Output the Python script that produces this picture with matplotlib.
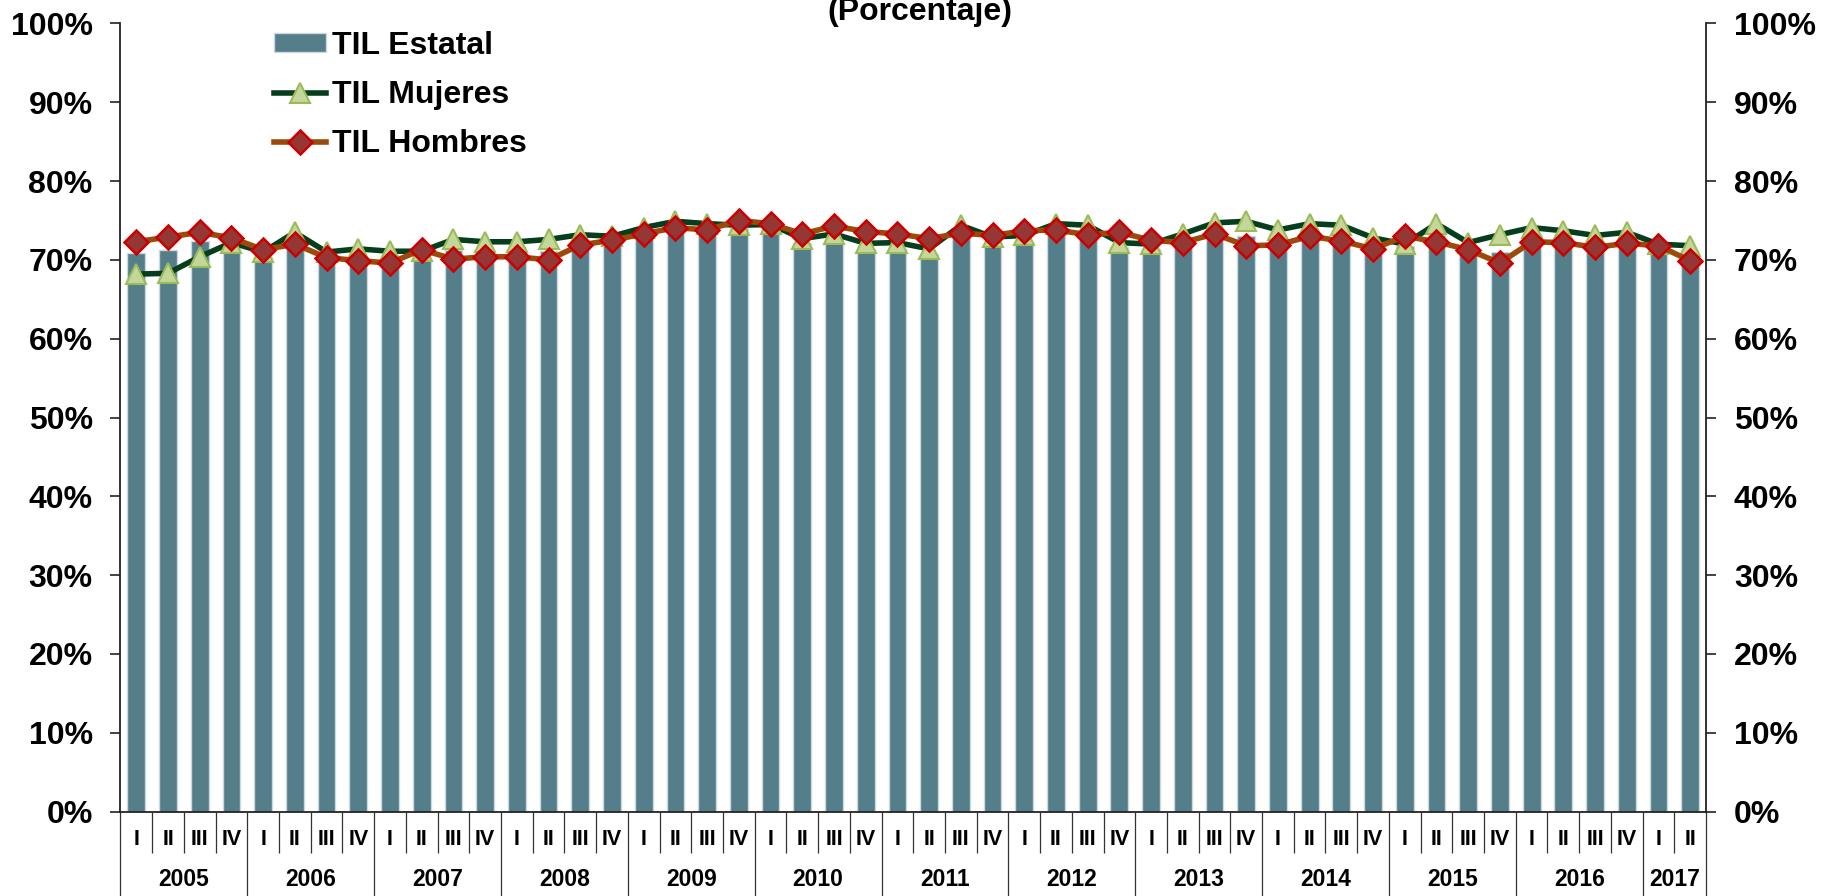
import numpy as np
import matplotlib
matplotlib.use('Agg')
import matplotlib.pyplot as plt
from matplotlib.ticker import FuncFormatter, FixedLocator

plt.rcParams['font.family'] = ['Liberation Sans', 'DejaVu Sans']
plt.rcParams['font.weight'] = 'bold'

quarters = ['I', 'II', 'III', 'IV'] * 12 + ['I', 'II']
years = ['2005', '2006', '2007', '2008', '2009', '2010', '2011',
         '2012', '2013', '2014', '2015', '2016', '2017']
quarters_per_year = [4] * 12 + [2]

til_estatal = [70.9, 71.3, 72.4, 72.2, 70.4, 72.0, 70.3, 70.2, 70.0, 70.2,
               71.2, 71.1, 71.1, 71.1, 71.9, 72.3, 73.0, 73.7, 73.7, 74.1,
               73.9, 72.2, 72.7, 71.4, 71.4, 70.8, 73.1, 72.2, 72.2, 73.3,
               72.9, 71.6, 71.4, 72.0, 72.7, 73.0, 72.8, 73.1, 72.7, 71.8,
               71.8, 73.1, 71.6, 71.0, 73.1, 72.7, 72.2, 72.4, 71.4, 70.7]
til_mujeres = [68.2, 68.3, 70.4, 72.2, 71.0, 73.5, 71.0, 71.4, 71.1, 71.1,
               72.6, 72.3, 72.3, 72.6, 73.2, 73.0, 74.1, 74.9, 74.6, 74.4,
               74.5, 72.7, 73.3, 72.1, 72.2, 71.4, 74.4, 72.9, 73.1, 74.6,
               74.4, 72.2, 72.0, 73.3, 74.7, 74.9, 73.8, 74.6, 74.4, 72.8,
               72.0, 74.6, 72.2, 73.2, 74.1, 73.7, 73.1, 73.5, 72.0, 71.8]
til_hombres = [72.3, 72.9, 73.5, 72.8, 71.3, 72.0, 70.3, 69.9, 69.6, 71.3,
               70.1, 70.4, 70.4, 70.0, 71.9, 72.5, 73.3, 74.1, 73.8, 75.0,
               74.6, 73.3, 74.3, 73.6, 73.3, 72.7, 73.4, 73.1, 73.7, 73.8,
               73.2, 73.5, 72.5, 72.2, 73.3, 71.8, 71.9, 73.0, 72.4, 71.4,
               73.0, 72.3, 71.3, 69.6, 72.3, 72.2, 71.6, 72.1, 71.8, 69.9]

x = np.arange(len(quarters))

fig = plt.figure(figsize=(18.39, 8.96), dpi=100)
ax = fig.add_axes([0.0655, 0.0942, 0.8622, 0.8796])

bars = ax.bar(x, til_estatal, width=0.56, color='#537E8A', edgecolor='#CBD9DD',
              linewidth=1, label='TIL Estatal', zorder=2)
l_muj, = ax.plot(x, til_mujeres, color='#063D1C', lw=4, marker='^', ms=14,
                 mfc='#C4D79B', mec='#9BBB59', mew=1.5, label='TIL Mujeres',
                 zorder=3)
l_hom, = ax.plot(x, til_hombres, color='#9C4A0C', lw=4, marker='D', ms=12,
                 mfc='#953735', mec='#CC0000', mew=1.8, label='TIL Hombres',
                 zorder=4)

ax.set_xlim(-0.5, len(quarters) - 0.5)
ax.set_ylim(0, 100)
ax.yaxis.set_major_locator(FixedLocator(np.arange(0, 101, 10)))
ax.yaxis.set_major_formatter(FuncFormatter(lambda v, p: f'{v:.0f}%'))
ax.tick_params(axis='y', which='both', direction='out', length=7, width=1.2,
               left=True, right=True, labelleft=True, labelright=True,
               labelsize=23, pad=13, color='#222222')

ax.spines['top'].set_visible(False)
for s in ['left', 'right', 'bottom']:
    ax.spines[s].set_linewidth(1.3)
    ax.spines[s].set_color('#222222')

# two-level category axis
bounds = np.arange(len(quarters) + 1) - 0.5
year_bounds = np.concatenate([[0], np.cumsum(quarters_per_year)]) - 0.5
ax.xaxis.set_major_locator(FixedLocator(year_bounds))
ax.xaxis.set_minor_locator(FixedLocator(bounds))
ax.tick_params(axis='x', which='major', length=61, width=0.9, color='#333333',
               labelbottom=False)
ax.tick_params(axis='x', which='minor', length=29.5, width=0.9, color='#333333',
               labelbottom=False)

trans = ax.get_xaxis_transform()
for i, q in enumerate(quarters):
    ax.text(i, -0.0348, q, transform=trans, ha='center', va='center',
            fontsize=15.5, fontweight='bold')
starts = year_bounds[:-1] + 0.5
for yr, st, n in zip(years, starts, quarters_per_year):
    ax.text(st + (n - 1) / 2, -0.0867, yr, transform=trans, ha='center',
            va='center', fontsize=16.5, fontweight='bold')

fig.text(0.5003, 1 - 20 / 896, '(Porcentaje)', ha='center', va='baseline',
         fontsize=23, fontweight='bold')

ax.legend(handles=[bars, l_muj, l_hom], loc='upper left',
          bbox_to_anchor=(274 / 1839, 1 - 31 / 896),
          bbox_transform=fig.transFigure, frameon=False, fontsize=23,
          handlelength=1.63, handleheight=0.53, handletextpad=0.19,
          labelspacing=0.6, borderpad=0, borderaxespad=0)

fig.savefig('out.png', dpi=100)
